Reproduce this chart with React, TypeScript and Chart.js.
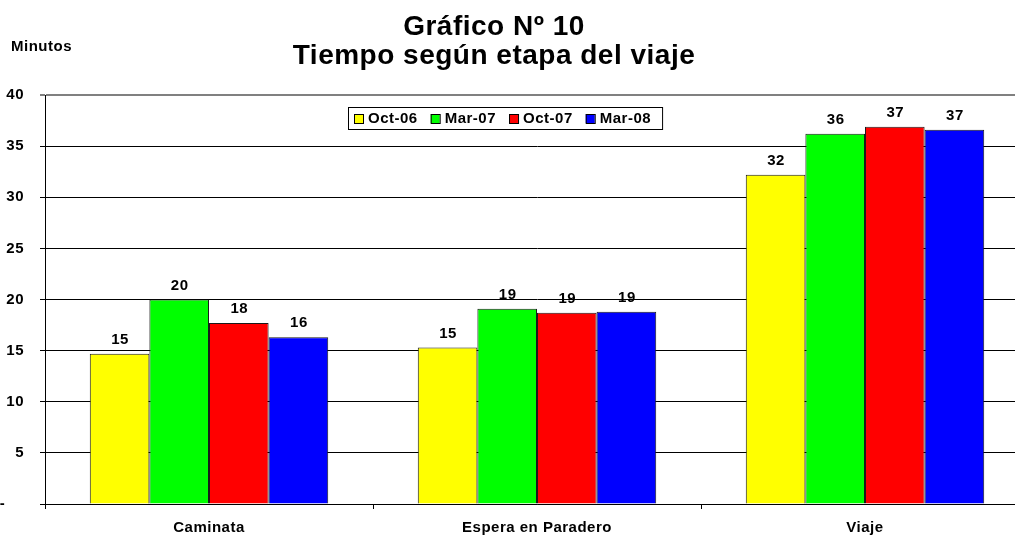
import React, { useEffect, useRef } from 'react';
import { Chart, registerables } from 'chart.js';

Chart.register(...registerables);

const FONT = '"Liberation Sans", Arial, Helvetica, sans-serif';
const SMALL = 15;
const SPACING = '0.5px';

const titleLines = ['Gráfico Nº 10', 'Tiempo según etapa del viaje'];
const yAxisTitle = 'Minutos';
const categories = ['Caminata', 'Espera en Paradero', 'Viaje'];
const seriesLabels = ['Oct-06', 'Mar-07', 'Oct-07', 'Mar-08'];
const seriesColors = ['#FFFF00', '#00FF00', '#FF0000', '#0000FF'];
const oct06 = [14.7, 15.3, 32.2];
const mar07 = [20.0, 19.1, 36.2];
const oct07 = [17.7, 18.7, 36.9];
const mar08 = [16.3, 18.8, 36.6];
const seriesValues = [oct06, mar07, oct07, mar08];
const yMin = 0;
const yMax = 40;
const yStep = 5;

export default function App() {
  const ref = useRef<HTMLCanvasElement>(null);

  useEffect(() => {
    document.body.style.overflow = 'hidden';
    const canvas = ref.current;
    if (!canvas) return;

    const spacingPlugin = {
      id: 'spacing',
      beforeLayout(chart: any) {
        chart.ctx.letterSpacing = SPACING;
      },
      beforeDraw(chart: any) {
        chart.ctx.letterSpacing = SPACING;
      },
    };

    const barLabels = {
      id: 'barLabels',
      afterDatasetsDraw(chart: any) {
        const ctx = chart.ctx;
        ctx.save();
        ctx.letterSpacing = SPACING;
        ctx.font = `bold ${SMALL}px ${FONT}`;
        ctx.fillStyle = '#000';
        ctx.textAlign = 'center';
        ctx.textBaseline = 'middle';
        chart.data.datasets.forEach((ds: any, i: number) => {
          const meta = chart.getDatasetMeta(i);
          meta.data.forEach((el: any, j: number) => {
            const v = ds.data[j] as number;
            ctx.fillText(String(Math.round(v)), el.x + 0.5, el.y - 14);
          });
        });
        ctx.restore();
      },
    };

    const overlay = {
      id: 'overlay',
      afterDraw(chart: any) {
        const ctx = chart.ctx;
        ctx.save();
        // Title
        ctx.letterSpacing = '0.5px';
        ctx.font = `bold 28px ${FONT}`;
        ctx.fillStyle = '#000';
        ctx.textAlign = 'center';
        ctx.textBaseline = 'alphabetic';
        ctx.fillText(titleLines[0], 494, 35);
        ctx.fillText(titleLines[1], 494, 64);
        // Y axis title
        ctx.letterSpacing = SPACING;
        ctx.font = `bold ${SMALL}px ${FONT}`;
        ctx.textAlign = 'left';
        ctx.fillText(yAxisTitle, 11, 51);
        // Legend
        const boxLeft = 348;
        const boxTop = 107;
        const boxH = 22;
        let x = boxLeft + 6;
        const items: { x: number; tx: number; color: string; label: string }[] = [];
        chart.data.datasets.forEach((ds: any) => {
          const label = ds.label as string;
          const w = ctx.measureText(label).width;
          items.push({ x, tx: x + 14, color: ds.backgroundColor as string, label });
          x = x + 14 + w + 13;
        });
        const boxRight = x - 13 + 11;
        ctx.fillStyle = '#fff';
        ctx.fillRect(boxLeft, boxTop, boxRight - boxLeft, boxH);
        ctx.strokeStyle = '#000';
        ctx.lineWidth = 1;
        ctx.strokeRect(boxLeft + 0.5, boxTop + 0.5, boxRight - boxLeft, boxH);
        ctx.textBaseline = 'middle';
        items.forEach((it) => {
          ctx.fillStyle = it.color;
          ctx.fillRect(it.x, boxTop + 7, 9, 9);
          ctx.strokeStyle = '#000';
          ctx.strokeRect(it.x + 0.5, boxTop + 7.5, 9, 9);
          ctx.fillStyle = '#000';
          ctx.fillText(it.label, it.tx, boxTop + 12);
        });
        ctx.restore();
      },
    };

    const chart = new Chart(canvas, {
      type: 'bar',
      data: {
        labels: categories,
        datasets: seriesLabels.map((label, i) => ({
          label,
          data: seriesValues[i],
          backgroundColor: seriesColors[i],
          borderColor: '#1a1a1a',
          borderWidth: 1,
          categoryPercentage: 0.727,
          barPercentage: 1.0,
        })),
      },
      options: {
        responsive: false,
        animation: false,
        devicePixelRatio: 1,
        layout: { padding: { top: 95, left: 0, right: 11, bottom: 0 } },
        plugins: {
          legend: { display: false },
          title: { display: false },
          tooltip: { enabled: false },
        },
        scales: {
          x: {
            offset: true,
            grid: {
              offset: true,
              drawOnChartArea: false,
              drawTicks: true,
              tickLength: 5,
              color: '#000',
            },
            border: { display: true, color: '#000', width: 1 },
            ticks: {
              color: '#000',
              padding: 10,
              font: { family: FONT, size: SMALL, weight: 'bold' },
            },
            afterFit: (scale: any) => {
              scale.height = 32;
            },
          },
          y: {
            min: yMin,
            max: yMax,
            grid: {
              color: (c: any) => (c.tick && c.tick.value === yMax ? '#808080' : '#000'),
              lineWidth: (c: any) => (c.tick && c.tick.value === yMax ? 2 : 1),
              tickLength: 5,
              drawTicks: true,
            },
            border: { display: true, color: '#000', width: 1 },
            ticks: {
              stepSize: yStep,
              color: '#000',
              padding: 16,
              font: { family: FONT, size: SMALL, weight: 'bold' },
              callback: (v: any) => (Number(v) === 0 ? '-    ' : String(v)),
            },
            afterFit: (scale: any) => {
              scale.width = 45;
            },
          },
        },
      },
      plugins: [spacingPlugin, barLabels, overlay],
    });

    return () => {
      chart.destroy();
    };
  }, []);

  return (
    <div style={{ position: 'fixed', left: 0, top: 0, width: 1040, height: 536, background: '#fff' }}>
      <canvas ref={ref} width={1040} height={536} style={{ display: 'block', width: 1040, height: 536 }} />
    </div>
  );
}
